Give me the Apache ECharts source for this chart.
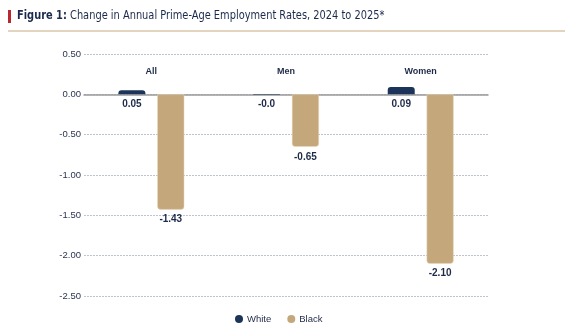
<!DOCTYPE html>
<html>
<head>
<meta charset="utf-8">
<script src="https://cdn.jsdelivr.net/npm/echarts@6/dist/echarts.min.js"></script>
<style>html,body{margin:0;padding:0;background:#fff}#c{width:565px;height:330px}</style>
</head>
<body>
<div id="c"></div>
<script>
var categories = ['All', 'Men', 'Women'];
var whiteValues = [0.05, -0.004, 0.09];
var whiteLabels = ['0.05', '-0.0', '0.09'];
var blackValues = [-1.43, -0.65, -2.10];
var blackLabels = ['-1.43', '-0.65', '-2.10'];
var yTicks = { min: -2.5, max: 0.5, interval: 0.5 };
var seriesNames = ['White', 'Black'];

var navy = '#1c3459';
var tan = '#c4a87c';
var textColor = '#1e2a48';

var chart = echarts.init(document.getElementById('c'));
chart.setOption({
  animation: false,
  textStyle: { fontFamily: 'Liberation Sans, Arial, sans-serif' },
  graphic: [
    { type: 'rect', shape: { x: 8, y: 10, width: 3, height: 13 }, style: { fill: '#b8282e' } },
    { type: 'text', x: 17, y: 9, scaleX: 0.875,
      style: {
        text: '{b|Figure 1:} Change in Annual Prime-Age Employment Rates, 2024 to 2025*',
        fill: '#1b2a4c',
        font: '12.5px "Liberation Sans Narrow", "DejaVu Sans Condensed", sans-serif',
        rich: { b: { fontWeight: 'bold', fontSize: 12.5, fontFamily: '"Liberation Sans Narrow", "DejaVu Sans Condensed", sans-serif', fill: '#1b2a4c' } }
      } },
    { type: 'line', shape: { x1: 8, y1: 31, x2: 565, y2: 31 }, style: { stroke: '#d9c6aa', lineWidth: 1.5 } }
  ],
  grid: { left: 84, right: 77, top: 54, bottom: 34 },
  legend: {
    data: seriesNames,
    left: 230, top: 309,
    icon: 'circle', itemWidth: 8, itemHeight: 8, itemGap: 16,
    itemStyle: { borderWidth: 0 },
    textStyle: { color: textColor, fontSize: 9.5, padding: [0, 0, 0, -1] }
  },
  xAxis: [
    {
      type: 'category',
      data: categories,
      axisLine: { onZero: true, lineStyle: { color: '#9a9a9a', width: 1.5 } },
      axisTick: { show: false },
      axisLabel: { show: false }
    },
    {
      type: 'category',
      position: 'top',
      data: categories,
      axisLine: { show: false },
      axisTick: { show: false },
      axisLabel: { inside: true, margin: 13, color: textColor, fontWeight: 'bold', fontSize: 9 }
    }
  ],
  yAxis: {
    type: 'value',
    min: yTicks.min, max: yTicks.max, interval: yTicks.interval,
    axisLine: { show: false },
    axisTick: { show: false },
    axisLabel: { margin: 3, color: '#2a3452', fontSize: 9.5, formatter: function (v) { return v.toFixed(2); } },
    splitLine: { lineStyle: { color: '#bfc3cd', type: [2, 1], width: 1 } }
  },
  series: [
    {
      name: seriesNames[0], type: 'bar', data: whiteValues,
      barWidth: 27, barGap: '44%',
      itemStyle: { color: navy, borderRadius: [3, 3, 0, 0] },
      label: { show: true, position: 'bottom', distance: 5, color: textColor, fontWeight: 'bold', fontSize: 10,
        formatter: function (p) { return whiteLabels[p.dataIndex]; } }
    },
    {
      name: seriesNames[1], type: 'bar', data: blackValues,
      barWidth: 27,
      itemStyle: { color: tan, borderRadius: [0, 0, 3, 3], borderColor: '#e8d9bc', borderWidth: 0.5 },
      label: { show: true, position: 'bottom', distance: 5, color: textColor, fontWeight: 'bold', fontSize: 10,
        formatter: function (p) { return blackLabels[p.dataIndex]; } }
    }
  ]
});
</script>
</body>
</html>
